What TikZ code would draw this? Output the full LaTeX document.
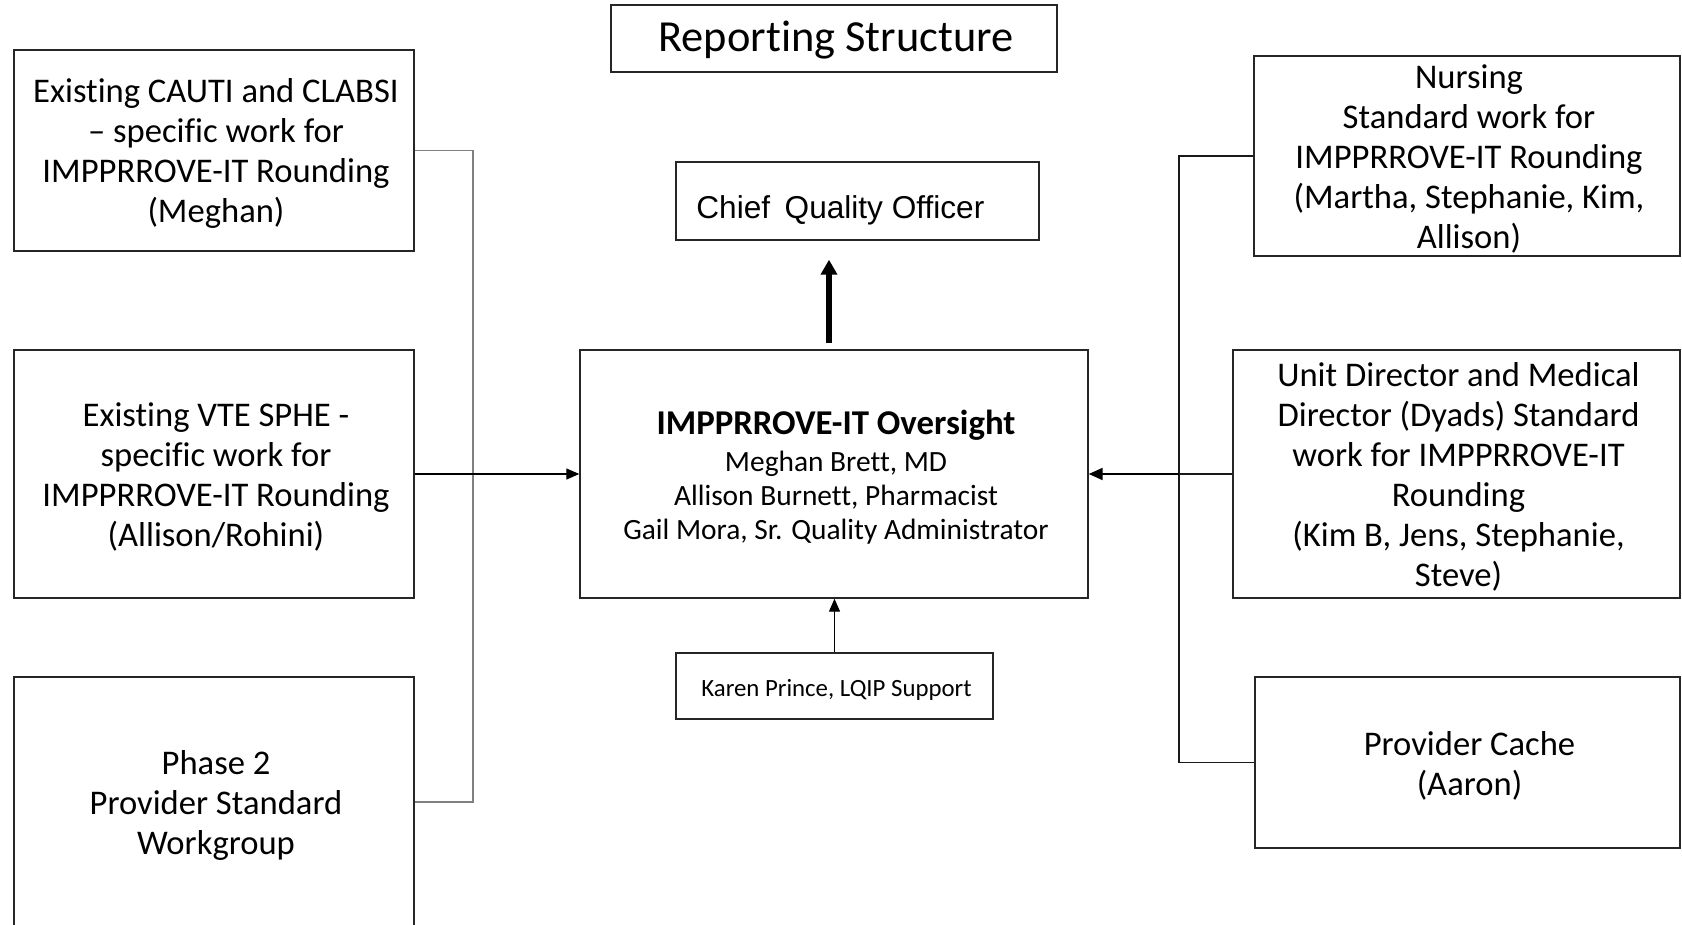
\documentclass[tikz,border=0pt]{standalone}
\usepackage{fontspec}
\setmainfont{Carlito}[Ligatures=NoCommon]
\newfontfamily\arialfont{Liberation Sans}
\usetikzlibrary{arrows.meta}
\begin{document}
\begin{tikzpicture}[x=0.5pt,y=-0.5pt,
  box/.style={draw=black!85, line width=0.7pt, inner sep=0pt},
  label/.style={inner sep=0pt, align=center, xshift=1pt},
  boxtext/.style={label, font=\fontsize{17.3}{20}\selectfont},
  busline/.style={draw=black!50, line width=0.6pt},
  rline/.style={draw=black!90, line width=0.6pt},
  thinarrow/.style={draw=black, line width=0.6pt, -{Triangle[length=6.5pt,width=5.5pt]}},
  midarrow/.style={draw=black, line width=1pt, -{Triangle[length=7pt,width=6pt]}},
  bigarrow/.style={draw=black, line width=3.2pt, -{Triangle[length=7.5pt,width=8pt]}},
]
\fill[white] (0,0) rectangle (1682,925);
\useasboundingbox (0,0) rectangle (1682,925);

% title and top of the chain
\node[box, minimum width=223pt, minimum height=33.5pt] (title) at (834,38.5) {};
\node[label, font=\fontsize{22.2}{26}\selectfont] (titletext) at ([yshift=-1pt]title.center) {Reporting Structure};
\node[box, minimum width=181.5pt, minimum height=39pt] (chief) at (857.5,201) {};
\node[anchor=base west, inner sep=0pt, font=\arialfont\fontsize{15.8}{19}\selectfont] (chieftext) at (696,219) {Chief\hspace{0.46em}Quality Officer};

% oversight group
\node[box, minimum width=254pt, minimum height=124pt] (main) at (834,474) {};
\node[label, font=\fontsize{14.7}{17}\selectfont] (maintext) at ([yshift=-1.6pt]main.center)
  {{\fontsize{17.4}{20}\selectfont\bfseries IMPPRROVE-IT Oversight}\\[1.2pt]
   Meghan Brett, MD\\
   Allison Burnett, Pharmacist\\
   Gail Mora, Sr. Quality Administrator};
\node[box, minimum width=158.5pt, minimum height=33pt] (karen) at (834.5,686) {};
\node[label, font=\fontsize{12.4}{14}\selectfont] (karentext) at ([yshift=-2pt]karen.center) {Karen Prince, LQIP Support};

% left-hand workgroups
\node[box, minimum width=200pt, minimum height=100.5pt] (cauti) at (214,150.5) {};
\node[boxtext] (cautitext) at ([yshift=-1.7pt]cauti.center)
  {Existing CAUTI and CLABSI\\– specific work for\\IMPPRROVE-IT Rounding\\(Meghan)};
\node[box, minimum width=200pt, minimum height=124pt] (vte) at (214,474) {};
\node[boxtext] (vtetext) at ([yshift=-1.7pt]vte.center)
  {Existing VTE SPHE -\\specific work for\\IMPPRROVE-IT Rounding\\(Allison/Rohini)};
\node[box, minimum width=200pt, minimum height=125pt] (phase) at (214,802) {};
\node[boxtext] (phasetext) at ([yshift=-1.9pt]phase.center)
  {Phase 2\\Provider Standard\\Workgroup};

% right-hand workgroups
\node[box, minimum width=213pt, minimum height=100pt] (nursing) at (1467,156) {};
\node[boxtext] (nursingtext) at ([yshift=-1.6pt]nursing.center)
  {Nursing\\Standard work for\\IMPPRROVE-IT Rounding\\(Martha, Stephanie, Kim,\\Allison)};
\node[box, minimum width=223.5pt, minimum height=124pt] (unit) at (1456.5,474) {};
\node[boxtext] (unittext) at ([yshift=-1.6pt]unit.center)
  {Unit Director and Medical\\Director (Dyads) Standard\\work for IMPPRROVE-IT\\Rounding\\(Kim B, Jens, Stephanie,\\Steve)};
\node[box, minimum width=212.5pt, minimum height=85.5pt] (cache) at (1467.5,762.5) {};
\node[boxtext] (cachetext) at ([yshift=-1.9pt]cache.center)
  {Provider Cache\\(Aaron)};

% connectors
\coordinate (lbus) at (473,0);
\coordinate (rbus) at (1179,0);
\draw[busline] (cauti.east) -- (cauti.east -| lbus) -- (phase.east -| lbus) -- (phase.east);
\draw[thinarrow] (vte.east) -- (main.west);
\draw[rline] (nursing.west) -- (nursing.west -| rbus) -- (cache.west -| rbus) -- (cache.west);
\draw[rline] (unit.west) -- (unit.west -| rbus);
\draw[midarrow] (unit.west -| rbus) -- (main.east);
\draw[thinarrow] (karen.north) -- (karen.north |- main.south);
\coordinate (cqbase) at ([xshift=-2.5pt,yshift=3pt]main.north);
\coordinate (cqtip) at ([yshift=-9.5pt]chief.south);
\draw[bigarrow] (cqbase) -- (cqbase |- cqtip);
\end{tikzpicture}
\end{document}
